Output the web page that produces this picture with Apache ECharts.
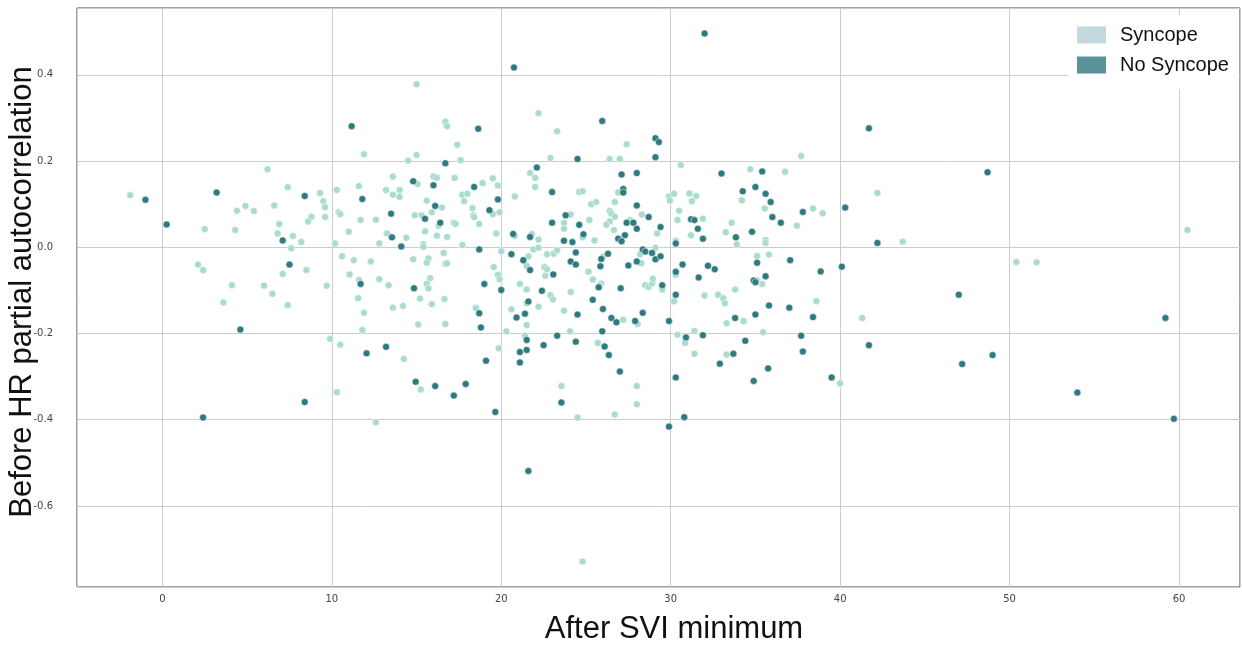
<!DOCTYPE html>
<html>
<head>
<meta charset="utf-8">
<title>Scatter</title>
<script src="https://cdn.jsdelivr.net/npm/echarts@6/dist/echarts.min.js"></script>
<style>
  html, body { margin: 0; padding: 0; background: #fff; }
  #chart { width: 1242px; height: 648px; }
</style>
</head>
<body>
<div id="chart"></div>
<script>
// [after SVI minimum, before HR partial autocorrelation]
const syncope = [
  [-1.9, 0.121], [6.2, 0.181], [7.4, 0.139], [9.3, 0.126], [9.5, 0.107], [9.6, 0.093], [8.8, 0.071], [8.6, 0.060],
  [9.6, 0.070], [4.4, 0.085], [4.9, 0.096], [5.4, 0.084], [6.6, 0.097], [6.9, 0.054], [2.5, 0.042], [4.3, 0.040],
  [6.8, 0.032], [7.7, 0.026], [8.2, 0.012], [7.6, -0.002],
  [2.1, -0.040], [2.4, -0.053], [7.1, -0.062], [8.5, -0.053], [4.1, -0.088], [6.0, -0.089], [6.5, -0.108],
  [3.6, -0.128], [7.4, -0.134], [9.7, -0.089], [9.9, -0.212],
  [15.0, 0.378], [16.7, 0.291], [16.8, 0.281], [17.4, 0.238], [11.9, 0.216], [14.5, 0.201], [15.0, 0.214],
  [17.6, 0.202], [13.6, 0.164], [16.0, 0.164], [16.2, 0.161], [17.25, 0.161], [15.06, 0.147], [18.9, 0.149],
  [19.5, 0.160], [19.8, 0.143], [10.3, 0.133], [11.6, 0.142], [13.2, 0.133], [14.0, 0.133], [13.6, 0.122],
  [14.0, 0.117], [17.7, 0.122], [18.0, 0.124], [17.8, 0.107], [20.8, 0.118], [15.6, 0.108], [16.5, 0.092],
  [15.9, 0.081], [18.3, 0.091], [18.35, 0.074], [18.4, 0.070], [19.5, 0.077], [19.9, 0.081], [14.9, 0.074],
  [15.3, 0.074], [16.3, 0.050], [17.2, 0.057], [17.3, 0.054], [18.7, 0.054], [10.4, 0.081], [10.5, 0.077],
  [11.7, 0.063], [12.6, 0.064], [11.0, 0.036], [13.25, 0.032], [14.4, 0.022], [15.5, 0.037], [16.2, 0.027],
  [16.8, 0.024], [19.7, 0.032], [20.8, 0.026], [10.2, 0.009], [12.8, 0.009], [15.4, 0.007], [15.4, 0.001], [17.7, 0.005],
  [10.6, -0.021], [11.3, -0.030], [12.3, -0.033], [11.05, -0.063], [11.6, -0.076], [12.8, -0.074], [13.35, -0.088],
  [11.55, -0.118], [11.9, -0.152], [11.8, -0.192], [13.6, -0.140], [14.2, -0.136], [14.8, -0.028], [15.7, -0.026],
  [15.6, -0.036], [16.6, -0.013], [16.7, -0.038], [16.8, -0.037], [15.8, -0.072], [15.6, -0.085], [15.7, -0.095],
  [15.2, -0.119], [15.9, -0.132], [16.65, -0.120], [15.1, -0.179], [16.7, -0.178], [20.0, -0.009], [19.55, -0.046],
  [19.8, -0.064], [19.9, -0.074], [21.1, -0.085], [18.5, -0.141], [20.6, -0.144], [20.3, -0.195], [10.5, -0.226],
  [14.25, -0.259], [19.85, -0.234], [15.25, -0.330], [10.3, -0.336], [12.6, -0.406],
  [22.2, 0.311], [23.3, 0.269], [27.4, 0.239], [22.9, 0.207], [26.4, 0.205], [27.0, 0.205], [30.6, 0.191],
  [21.7, 0.172], [22.0, 0.161], [22.0, 0.140], [24.6, 0.128], [24.8, 0.130], [26.9, 0.127], [25.3, 0.100],
  [25.6, 0.105], [26.7, 0.105], [26.4, 0.084], [26.5, 0.078], [26.7, 0.071], [26.4, 0.060], [26.2, 0.052],
  [24.1, 0.076], [23.7, 0.057], [23.7, 0.043], [25.2, 0.063], [27.6, 0.063], [28.3, 0.076], [26.65, 0.040],
  [29.2, 0.032], [24.8, 0.023], [25.5, 0.016], [21.8, 0.031], [22.2, 0.018], [29.9, 0.118], [30.2, 0.124],
  [29.95, 0.108], [31.1, 0.125], [31.5, 0.119], [31.25, 0.107], [30.5, 0.085], [30.4, 0.063], [31.9, 0.066],
  [31.2, 0.028], [30.3, 0.015], [29.1, -0.001],
  [21.9, -0.005], [22.2, -0.001], [21.6, -0.021], [21.5, -0.043], [22.7, -0.016], [23.1, -0.015], [23.3, -0.007],
  [22.55, -0.046], [22.7, -0.051], [22.6, -0.066], [25.15, -0.057], [25.4, -0.075], [26.0, -0.022], [25.9, -0.084],
  [25.8, -0.089], [28.26, -0.037], [28.2, -0.016], [28.5, -0.088], [28.7, -0.092], [28.9, -0.084], [28.95, -0.073],
  [29.5, -0.098], [30.3, -0.064], [30.2, -0.125], [32.0, -0.112], [21.5, -0.098], [22.9, -0.111], [23.05, -0.121],
  [24.1, -0.104], [21.5, -0.130], [22.2, -0.138], [21.5, -0.180], [23.7, -0.147], [27.2, -0.168], [28.05, -0.178],
  [24.05, -0.195], [21.4, -0.205], [25.7, -0.222], [23.55, -0.322], [24.5, -0.395], [28.0, -0.322], [28.0, -0.364],
  [26.7, -0.388], [30.4, -0.203], [30.85, -0.222], [31.4, -0.194], [31.4, -0.247], [24.8, -0.729],
  [37.7, 0.212], [42.2, 0.126], [34.7, 0.181], [36.75, 0.175], [34.2, 0.109], [35.55, 0.090], [38.4, 0.090],
  [38.97, 0.079], [37.45, 0.050], [33.6, 0.057], [33.25, 0.035], [33.9, 0.007], [35.6, 0.017], [35.6, 0.010],
  [35.1, -0.020], [35.8, -0.017], [35.1, -0.077], [35.4, -0.085], [33.8, -0.098], [32.8, -0.110], [33.1, -0.118],
  [33.2, -0.130], [38.6, -0.125], [34.3, -0.171], [33.3, -0.176], [41.3, -0.164], [35.45, -0.197], [33.3, -0.249],
  [40.0, -0.316], [43.7, 0.013], [50.4, -0.034], [51.6, -0.035], [60.5, 0.040]
];

const noSyncope = [
  [-1.0, 0.110], [0.25, 0.053], [3.2, 0.127], [8.4, 0.119], [7.1, 0.016],
  [7.5, -0.040], [4.6, -0.191], [8.4, -0.359], [2.4, -0.395],
  [20.75, 0.417], [11.17, 0.281], [18.64, 0.275], [16.7, 0.195], [14.8, 0.153], [16.0, 0.144], [18.4, 0.140],
  [11.8, 0.112], [19.8, 0.111], [16.1, 0.096], [19.3, 0.086], [13.5, 0.078], [15.5, 0.066], [16.4, 0.057],
  [13.55, 0.023], [20.7, 0.031], [14.1, 0.002], [18.7, -0.005],
  [11.7, -0.085], [14.85, -0.095], [20.6, -0.016], [19.0, -0.085], [20.0, -0.099], [18.7, -0.153], [18.8, -0.186],
  [20.9, -0.163], [12.05, -0.246], [13.2, -0.231], [19.1, -0.263], [21.1, -0.243], [21.1, -0.267], [14.95, -0.312],
  [16.1, -0.322], [17.2, -0.344], [17.9, -0.317], [19.65, -0.382],
  [32.0, 0.496], [25.96, 0.293], [29.1, 0.253], [29.3, 0.244], [24.5, 0.205], [29.1, 0.209], [22.1, 0.185],
  [27.1, 0.169], [28.0, 0.172], [23.0, 0.128], [27.2, 0.135], [27.2, 0.127], [28.0, 0.097], [23.8, 0.074],
  [23.0, 0.057], [24.6, 0.052], [27.4, 0.057], [27.8, 0.057], [28.0, 0.043], [28.7, 0.070], [29.4, 0.047],
  [27.3, 0.028], [24.85, 0.030], [23.7, 0.015], [24.2, 0.012], [26.9, 0.020], [27.1, 0.014], [21.7, 0.024],
  [31.2, 0.065], [31.4, 0.063], [31.6, 0.043], [31.9, 0.020], [30.3, 0.009], [28.35, -0.005],
  [21.3, -0.030], [21.7, -0.053], [24.4, -0.012], [24.1, -0.033], [24.4, -0.040], [23.07, -0.063], [25.9, -0.027],
  [25.85, -0.044], [26.3, -0.015], [25.75, -0.093], [27.05, -0.095], [27.5, -0.042], [28.0, -0.033], [28.5, -0.010],
  [28.9, -0.013], [29.1, -0.028], [29.4, -0.021], [29.5, -0.088], [30.7, -0.040], [30.3, -0.057], [31.65, -0.070],
  [32.2, -0.043], [30.3, -0.110], [22.4, -0.101], [21.6, -0.126], [21.4, -0.154], [24.5, -0.156], [25.4, -0.122],
  [26.0, -0.143], [26.5, -0.164], [26.8, -0.174], [27.9, -0.171], [28.35, -0.152], [29.9, -0.171], [23.3, -0.205],
  [25.96, -0.195], [21.5, -0.215], [21.5, -0.238], [22.5, -0.227], [24.4, -0.219], [26.1, -0.230], [26.35, -0.250],
  [27.0, -0.288], [23.55, -0.360], [29.9, -0.416], [30.3, -0.302], [30.8, -0.394], [30.9, -0.209], [31.9, -0.204],
  [21.6, -0.519],
  [41.7, 0.276], [40.3, 0.092], [42.2, 0.010], [33.0, 0.171], [35.4, 0.176], [34.25, 0.130], [35.0, 0.140],
  [35.6, 0.124], [35.9, 0.105], [36.0, 0.070], [36.5, 0.057], [37.8, 0.082], [33.85, 0.023], [34.8, 0.036],
  [35.1, -0.036], [37.05, -0.030], [32.6, -0.051], [38.85, -0.056], [40.1, -0.045], [35.6, -0.067], [34.9, -0.077],
  [35.0, -0.081], [35.8, -0.135], [37.0, -0.140], [35.0, -0.156], [33.8, -0.164], [38.4, -0.162], [37.7, -0.205],
  [34.4, -0.217], [37.8, -0.242], [33.7, -0.247], [32.9, -0.270], [41.7, -0.227], [35.75, -0.281], [34.9, -0.310],
  [39.5, -0.302],
  [48.7, 0.174], [47.0, -0.110], [59.2, -0.164], [47.2, -0.271], [49.0, -0.250], [54.0, -0.337], [59.7, -0.398]
];

const seriesNames = ['Syncope', 'No Syncope'];
const xTitle = 'After SVI minimum';
const yTitle = 'Before HR partial autocorrelation';

const chart = echarts.init(document.getElementById('chart'));

const tickFont = { fontFamily: 'DejaVu Sans', fontSize: 10, color: '#444' };
const titleFont = '31px "Liberation Sans"';

chart.setOption({
  animation: false,
  grid: {
    left: 77, right: 2, top: 8, bottom: 61,
    show: true, borderColor: '#444', borderWidth: 1
  },
  legend: {
    data: [
      { name: seriesNames[0], itemStyle: { color: '#c3d9de', borderWidth: 0 } },
      { name: seriesNames[1], itemStyle: { color: '#5a9399', borderWidth: 0 } }
    ],
    orient: 'vertical',
    left: 1068, top: 15,
    padding: [10, 10, 14, 9],
    backgroundColor: '#fff',
    icon: 'rect',
    itemWidth: 29, itemHeight: 17, itemGap: 10,
    textStyle: { fontFamily: 'Liberation Sans', fontSize: 20, color: '#111', padding: [0, 0, 0, 9] }
  },
  xAxis: {
    type: 'value',
    min: -5.04, max: 63.6,
    splitNumber: 7,
    axisLine: { show: false },
    axisTick: { show: false },
    axisLabel: Object.assign({ margin: 7, showMinLabel: false, showMaxLabel: false }, tickFont),
    splitLine: { show: true, lineStyle: { color: '#cccccc', width: 1 } }
  },
  yAxis: {
    type: 'value',
    min: -0.788, max: 0.555,
    splitNumber: 7,
    axisLine: { show: false },
    axisTick: { show: false },
    axisLabel: Object.assign({
      margin: 24, showMinLabel: false, showMaxLabel: false,
      formatter: v => v.toFixed(1)
    }, tickFont),
    splitLine: { show: true, lineStyle: { color: '#cccccc', width: 1 } }
  },
  graphic: [
    {
      type: 'text', x: 674, y: 629,
      style: {
        text: xTitle, align: 'center', verticalAlign: 'middle',
        font: titleFont, fill: '#111'
      }
    },
    {
      type: 'text', x: 22, y: 292, rotation: Math.PI / 2,
      style: {
        text: yTitle, align: 'center', verticalAlign: 'middle',
        font: titleFont, fill: '#111'
      }
    }
  ],
  series: [
    {
      name: seriesNames[0], type: 'scatter', data: syncope,
      symbolSize: 7,
      itemStyle: { color: '#a9dccd', borderColor: '#fff', borderWidth: 0.5, opacity: 1 }
    },
    {
      name: seriesNames[1], type: 'scatter', data: noSyncope,
      symbolSize: 7,
      itemStyle: { color: '#2e7a7f', borderColor: '#fff', borderWidth: 0.5, opacity: 1 }
    }
  ]
});
</script>
</body>
</html>
